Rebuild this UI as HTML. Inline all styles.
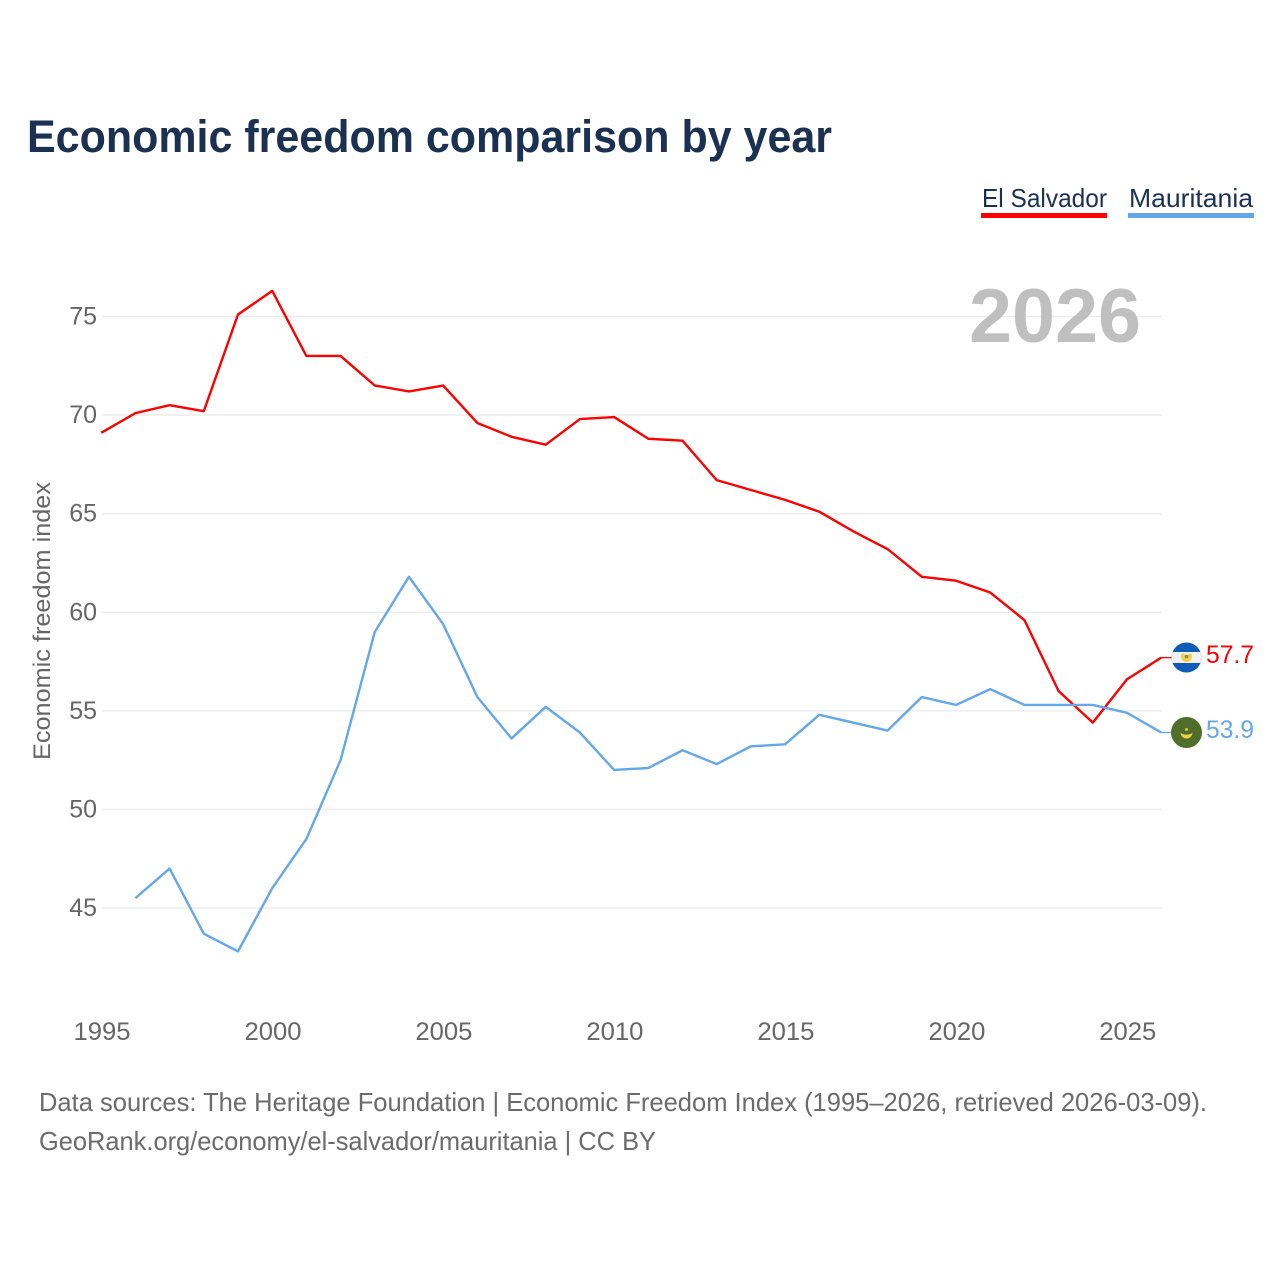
<!DOCTYPE html>
<html>
<head>
<meta charset="utf-8">
<title>Economic freedom comparison by year</title>
<style>
html,body{margin:0;padding:0;background:#fff;width:1280px;height:1280px;overflow:hidden}
svg{display:block;font-family:"Liberation Sans",sans-serif}
</style>
</head>
<body>
<svg id="chart" width="1280" height="1280" viewBox="0 0 1280 1280" xmlns="http://www.w3.org/2000/svg">
  <rect x="0" y="0" width="1280" height="1280" fill="#ffffff"/>
  <text x="27" y="152" font-size="45" font-weight="700" fill="#1a3152" textLength="805" lengthAdjust="spacingAndGlyphs">Economic freedom comparison by year</text>

  <g>
    <text x="982" y="207" font-size="26" fill="#1a3152" textLength="125" lengthAdjust="spacingAndGlyphs">El Salvador</text>
    <rect x="981" y="213" width="126" height="5" fill="#ff0000"/>
  </g>
  <g>
    <text x="1129" y="207" font-size="26" fill="#1a3152" textLength="124" lengthAdjust="spacingAndGlyphs">Mauritania</text>
    <rect x="1128" y="213" width="126" height="5" fill="#64a7ea"/>
  </g>

  <g id="grid"></g>
  <g id="yTicks"></g>
  <g id="xTicks"></g>

  <text x="969" y="342" font-size="76" font-weight="700" fill="#bfbfbf" textLength="172" lengthAdjust="spacingAndGlyphs">2026</text>
  <text transform="translate(50,760) rotate(-90)" x="0" y="0" font-size="24" fill="#666666" textLength="278" lengthAdjust="spacingAndGlyphs">Economic freedom index</text>

  <g id="series"></g>

  <g>
    <clipPath id="clipSv"><circle cx="1186.5" cy="657.5" r="15"/></clipPath>
    <g clip-path="url(#clipSv)">
      <rect x="1171" y="642" width="31" height="31" fill="#0f5cb4"/>
      <rect x="1171" y="652" width="31" height="11" fill="#f0f0f0"/>
    </g>
    <path d="M1181 654 A5.5 5.5 0 0 0 1192 654 L1192 656 A5.5 6 0 0 1 1181 656 Z" fill="#f5cf45"/>
    <path d="M1181 655 L1183 653 L1186.5 656 L1190 653 L1192 655 A5.5 6 0 0 1 1181 655 Z" fill="#f5cf45"/>
    <circle cx="1186.5" cy="656.5" r="1.8" fill="#5f9a72"/>
  </g>
  <g>
    <circle cx="1186.5" cy="732.5" r="15.5" fill="#4f6d2b"/>
    <path d="M1180.5 732.5 A6 6 0 0 0 1192.5 732.5 A6.5 3.5 0 0 1 1180.5 732.5 Z" fill="#f5cf45"/>
    <circle cx="1186.5" cy="729.5" r="1.4" fill="#f5cf45"/>
  </g>

  <g id="endLabels"></g>

  <text x="39" y="1111" font-size="26" fill="#6b6b6b" textLength="1168" lengthAdjust="spacingAndGlyphs">Data sources: The Heritage Foundation | Economic Freedom Index (1995–2026, retrieved 2026-03-09).</text>
  <text x="39" y="1150" font-size="26" fill="#6b6b6b" textLength="617" lengthAdjust="spacingAndGlyphs">GeoRank.org/economy/el-salvador/mauritania | CC BY</text>
</svg>
<script>
const years = [1995,1996,1997,1998,1999,2000,2001,2002,2003,2004,2005,2006,2007,2008,2009,2010,2011,2012,2013,2014,2015,2016,2017,2018,2019,2020,2021,2022,2023,2024,2025,2026];
const elSalvador = [69.1,70.1,70.5,70.2,75.1,76.3,73.0,73.0,71.5,71.2,71.5,69.6,68.9,68.5,69.8,69.9,68.8,68.7,66.7,66.2,65.7,65.1,64.1,63.2,61.8,61.6,61.0,59.6,56.0,54.4,56.6,57.7];
const mauritania = [null,45.5,47.0,43.7,42.8,46.0,48.5,52.5,59.0,61.8,59.4,55.7,53.6,55.2,53.9,52.0,52.1,53.0,52.3,53.2,53.3,54.8,54.4,54.0,55.7,55.3,56.1,55.3,55.3,55.3,54.9,53.9];
const yTickValues = [45,50,55,60,65,70,75];
const xTickValues = [1995,2000,2005,2010,2015,2020,2025];

const NS = 'http://www.w3.org/2000/svg';
const xScale = function (year) { return 101.2 + (year - 1995) * (1060 / 31); };
const yScale = function (value) { return 908 - (value - 45) * (591.5 / 30); };
const tickX = function (year) { return 102 + (year - 1995) * (1060 / 31); };

function make(tag, attrs, parent, content) {
  const el = document.createElementNS(NS, tag);
  Object.keys(attrs).forEach(function (k) { el.setAttribute(k, attrs[k]); });
  if (content !== undefined) el.textContent = content;
  parent.appendChild(el);
  return el;
}

yTickValues.forEach(function (v) {
  const line = make('line', {x1: 102, x2: 1162, y1: yScale(v), y2: yScale(v), stroke: '#ebebeb', 'stroke-width': 1.3}, document.getElementById('grid'));
  
  
  const label = make('text', {x: 97, y: yScale(v) + 8, 'text-anchor': 'end', 'font-size': 25, fill: '#666666'}, document.getElementById('yTicks'), String(v));
  
  
});

xTickValues.forEach(function (y) {
  const label = make('text', {x: tickX(y), y: 1040, 'text-anchor': 'middle', 'font-size': 25, fill: '#666666', textLength: 57, lengthAdjust: 'spacingAndGlyphs'}, document.getElementById('xTicks'), String(y));
  
  
});

function drawSeries(values, color, seriesName) {
  let d = '';
  let last = null;
  values.forEach(function (v, i) {
    if (v === null) return;
    d += (d ? 'L' : 'M') + xScale(years[i]).toFixed(2) + ' ' + yScale(v).toFixed(2);
    last = v;
  });
  const path = make('path', {d: d, fill: 'none', stroke: color, 'stroke-width': 2.4, 'stroke-linejoin': 'round'}, document.getElementById('series'));
  
  
  const connector = make('line', {x1: xScale(2026), x2: 1172, y1: yScale(last), y2: yScale(last), stroke: color, 'stroke-width': 1.3}, document.getElementById('series'));
  
  
  const label = make('text', {x: 1206, y: yScale(last) + 5.5, 'font-size': 25, fill: color, textLength: 48, lengthAdjust: 'spacingAndGlyphs'}, document.getElementById('endLabels'), last.toFixed(1));
  
  
}

drawSeries(elSalvador, '#ff0000', 'el-salvador');
drawSeries(mauritania, '#64a7ea', 'mauritania');
</script>
</body>
</html>
